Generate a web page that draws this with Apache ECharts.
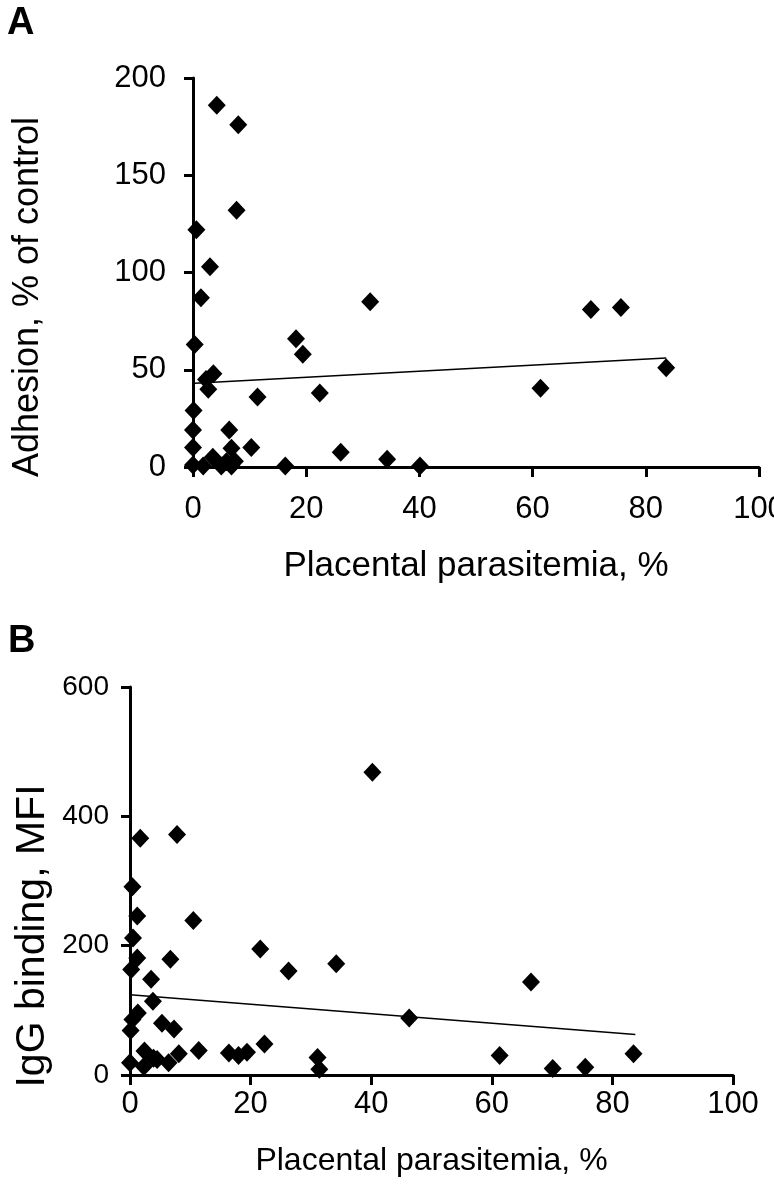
<!DOCTYPE html>
<html><head><meta charset="utf-8">
<script src="https://cdn.jsdelivr.net/npm/echarts@6/dist/echarts.min.js"></script>
<style>html,body{margin:0;padding:0;background:#fff;overflow:hidden}#c{width:774px;height:1200px}</style>
</head><body><div id="c"></div>
<script>
// ---- text ----
const panelLabels = ['A', 'B'];
const xTitle = 'Placental parasitemia, %';
const yTitleA = 'Adhesion, % of control';
const yTitleB = 'IgG binding, MFI';
// ---- tick labels ----
const xTicks = [0, 20, 40, 60, 80, 100];
const yTicksA = [0, 50, 100, 150, 200];
const yTicksB = [0, 200, 400, 600];
// ---- panel A: adhesion vs placental parasitemia ----
const parasitemiaA = [4.2, 8.0, 7.7, 0.6, 3.0, 1.4, 0.3, 18.2, 19.4, 31.3, 3.6, 2.3, 2.7, 11.4, 22.4, 0.1, 0, 6.4, 10.3, 0,
  6.8, 6.8, 3.5, 1.8, 5.0, 7.4, 16.3, 0, 5.9, 26.1, 34.3, 40.1, 70.3, 75.6, 83.6, 61.4];
const adhesion = [186, 176, 132, 122, 103, 87, 63, 66, 58, 85, 48, 45, 40, 36, 38, 29, 19, 19, 10, 10,
  9.6, 0.5, 5, 0.5, 0.5, 3, 0.5, 1, 2.7, 7.6, 4, 0.5, 81, 82, 51, 40.5];
const trendAx = [0.3, 83.6];
const trendAy = [43, 56];
// ---- panel B: IgG binding vs placental parasitemia ----
const parasitemiaB = [1.7, 7.8, 0.4, 1.2, 10.5, 0.5, 1.2, 6.7, 21.6, 26.3, 0.2, 3.5, 3.8, 1.3, 0.4, 5.3, 7.3, 0.1, 11.4, 16.4,
  18.0, 19.4, 22.3, 2.4, 3.9, 8.1, 6.4, 0, 2.3, 4.5, 40.2, 66.5, 46.3, 34.2, 31.1, 31.4, 61.3, 70.1, 75.5, 83.5];
const iggBinding = [366, 372, 291, 246, 239, 212, 181, 179, 195, 161, 163, 148, 114, 96, 86, 80, 71, 69, 38, 34,
  30, 35, 48, 37, 26, 33, 19, 19, 13, 24, 468, 144, 88, 172, 27, 9, 30, 10, 12, 33];
const trendBx = [0, 83.8];
const trendBy = [124, 62.5];

const FONT = '"Liberation Sans", Arial, Helvetica, sans-serif';
const zip = (a, b) => a.map((v, i) => [v, b[i]]);

function xAxisCfg(grid, ticks, labelSize, labelMargin, nameSize, nameGap) {
  return {
    gridIndex: grid, type: 'value',
    min: ticks[0], max: ticks[ticks.length - 1], interval: ticks[1] - ticks[0],
    axisLine: { onZero: false, lineStyle: { color: '#000', width: 3 } },
    axisTick: { show: true, length: 10, lineStyle: { color: '#000', width: 3 } },
    axisLabel: { color: '#000', fontSize: labelSize, fontFamily: FONT, margin: labelMargin, hideOverlap: false },
    splitLine: { show: false },
    name: xTitle, nameLocation: 'middle', nameGap: nameGap,
    nameTextStyle: { color: '#000', fontSize: nameSize, fontFamily: FONT }
  };
}
function yAxisCfg(grid, ticks, labelSize, labelMargin) {
  return {
    gridIndex: grid, type: 'value',
    min: ticks[0], max: ticks[ticks.length - 1], interval: ticks[1] - ticks[0],
    axisLine: { show: true, onZero: false, lineStyle: { color: '#000', width: 3 } },
    axisTick: { show: true, length: 9, lineStyle: { color: '#000', width: 3 } },
    axisLabel: { color: '#000', fontSize: labelSize, fontFamily: FONT, margin: labelMargin },
    splitLine: { show: false }
  };
}
const diamond = { symbol: 'diamond', symbolSize: [18, 19], itemStyle: { color: '#000', opacity: 1 } };
const trendStyle = { symbol: 'none', lineStyle: { color: '#000', width: 1.5 }, silent: true };

const chart = echarts.init(document.getElementById('c'), null, { renderer: 'canvas' });
chart.setOption({
  animation: false,
  backgroundColor: '#fff',
  title: [
    { text: panelLabels[0], left: 2, top: 0, textStyle: { fontSize: 38, fontWeight: 'bold', color: '#000', fontFamily: FONT } },
    { text: panelLabels[1], left: 3, top: 618, textStyle: { fontSize: 38, fontWeight: 'bold', color: '#000', fontFamily: FONT } }
  ],
  graphic: [
    { type: 'text', x: 28, y: 297, rotation: Math.PI / 2, silent: true,
      style: { text: yTitleA, fill: '#000', font: '36px ' + FONT, align: 'center', verticalAlign: 'middle' } },
    { type: 'text', x: 33, y: 936, rotation: Math.PI / 2, silent: true,
      style: { text: yTitleB, fill: '#000', font: '41px ' + FONT, align: 'center', verticalAlign: 'middle' } }
  ],
  grid: [
    { left: 193, right: 15, top: 78, height: 389, containLabel: false, outerBoundsMode: 'none' },
    { left: 130, right: 41, top: 687, height: 388, containLabel: false, outerBoundsMode: 'none' }
  ],
  xAxis: [
    xAxisCfg(0, xTicks, 31, 27, 35, 82),
    xAxisCfg(1, xTicks, 31, 14, 32, 70)
  ],
  yAxis: [
    yAxisCfg(0, yTicksA, 31, 27),
    yAxisCfg(1, yTicksB, 28, 21)
  ],
  series: [
    Object.assign({ type: 'scatter', xAxisIndex: 0, yAxisIndex: 0, data: zip(parasitemiaA, adhesion) }, diamond),
    Object.assign({ type: 'line', xAxisIndex: 0, yAxisIndex: 0, data: zip(trendAx, trendAy) }, trendStyle),
    Object.assign({ type: 'scatter', xAxisIndex: 1, yAxisIndex: 1, data: zip(parasitemiaB, iggBinding) }, diamond),
    Object.assign({ type: 'line', xAxisIndex: 1, yAxisIndex: 1, data: zip(trendBx, trendBy) }, trendStyle)
  ]
});
</script>
</body></html>
